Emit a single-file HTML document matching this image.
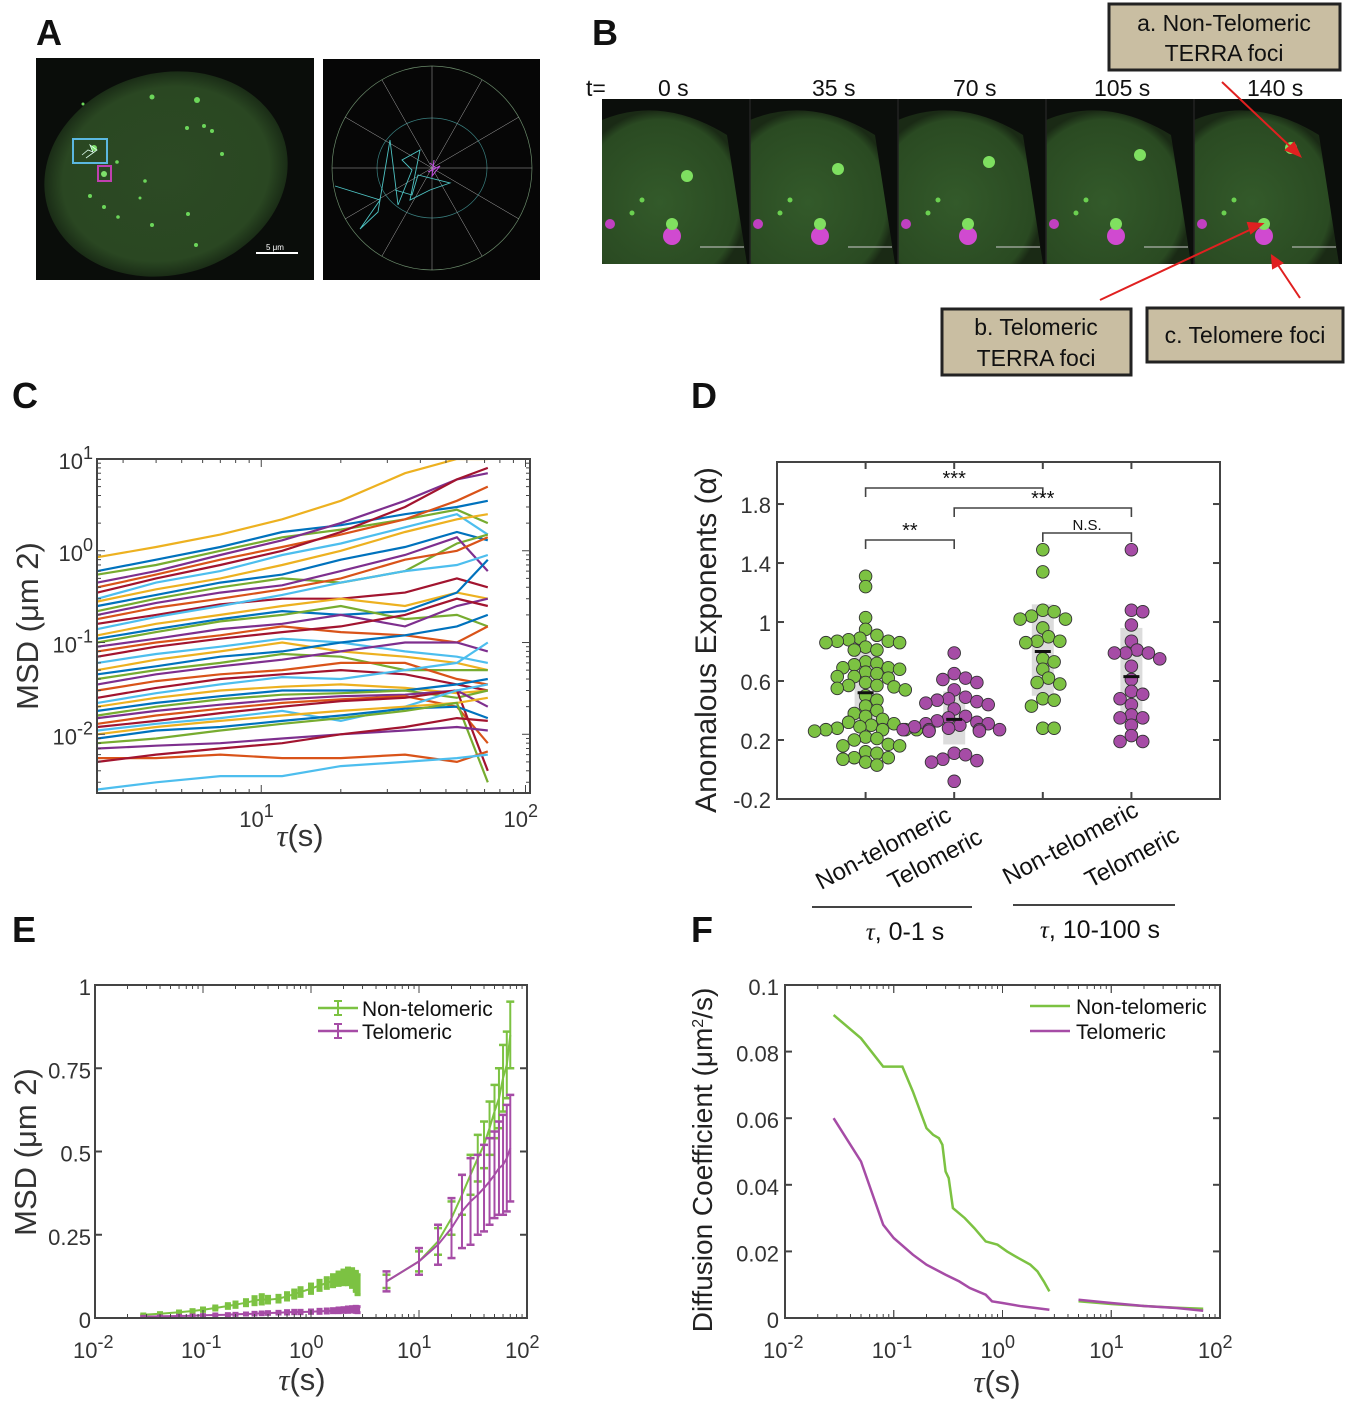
<!DOCTYPE html>
<html><head><meta charset="utf-8">
<style>
html,body{margin:0;padding:0;background:#fff;}
svg{display:block;font-family:"Liberation Sans",Arial,sans-serif;}
.tk{font-size:22px;fill:#333;}
.pl{font-size:36px;font-weight:bold;fill:#111;}
</style></head>
<body>
<svg id="fig" width="1350" height="1403" viewBox="0 0 1350 1403" xmlns="http://www.w3.org/2000/svg">
<defs>
<radialGradient id="nuc" cx="50%" cy="50%" r="50%"><stop offset="0%" stop-color="#2c4a24"/><stop offset="85%" stop-color="#2a4722"/><stop offset="100%" stop-color="#1a2c16"/></radialGradient>
<radialGradient id="nucB" cx="40%" cy="60%" r="60%"><stop offset="0%" stop-color="#335a2a"/><stop offset="90%" stop-color="#2a4a22"/><stop offset="100%" stop-color="#1a2a15"/></radialGradient>
</defs>

<text class="pl" x="36" y="45">A</text>
<g>
<rect x="36" y="58" width="278" height="222" fill="#0a0d0a"/>
<ellipse cx="166" cy="174" rx="123" ry="101" fill="url(#nuc)" transform="rotate(-15 166 174)"/>
<g fill="#6cd65a">
<circle cx="152" cy="97" r="2.5"/><circle cx="197" cy="100" r="3"/><circle cx="204" cy="126" r="2"/><circle cx="212" cy="131" r="2"/><circle cx="187" cy="128" r="2"/><circle cx="222" cy="154" r="2"/><circle cx="145" cy="181" r="1.8"/><circle cx="90" cy="196" r="2"/><circle cx="104" cy="207" r="2"/><circle cx="118" cy="217" r="1.8"/><circle cx="152" cy="225" r="2"/><circle cx="188" cy="214" r="2"/><circle cx="196" cy="245" r="2"/><circle cx="140" cy="198" r="1.5"/><circle cx="117" cy="162" r="1.8"/><circle cx="83" cy="104" r="1.5"/>
</g>
<rect x="73" y="139" width="34" height="24" fill="none" stroke="#5bb8e0" stroke-width="2"/>
<circle cx="94" cy="148" r="3" fill="#7ee06a"/>
<polyline points="82,155 88,150 93,152 90,145 97,150 86,158" fill="none" stroke="#dfe" stroke-width="0.8"/>
<rect x="98" y="166" width="13" height="15" fill="none" stroke="#c040b0" stroke-width="2"/>
<circle cx="104" cy="174" r="3" fill="#7ee06a"/>
<line x1="256" y1="253" x2="298" y2="253" stroke="#fff" stroke-width="2"/>
<text x="266" y="250" font-size="8" fill="#fff">5 μm</text>
</g>
<g>
<rect x="323" y="59" width="217" height="221" fill="#060606"/>
<ellipse cx="432" cy="168" rx="100" ry="102" fill="none" stroke="#6a8a6a" stroke-width="0.7"/>
<ellipse cx="432" cy="168" rx="55" ry="50" fill="none" stroke="#3a8080" stroke-width="0.7"/>
<g stroke="#aaa" stroke-width="0.5">
<line x1="432" y1="66" x2="432" y2="270"/><line x1="332" y1="168" x2="532" y2="168"/>
<line x1="382" y1="80" x2="482" y2="256"/><line x1="482" y1="80" x2="382" y2="256"/>
<line x1="345" y1="117" x2="519" y2="219"/><line x1="519" y1="117" x2="345" y2="219"/>
</g>
<polyline points="335,186 380,200 360,229 378,212 390,140 398,205 412,170 402,160 420,150 410,200 430,190 450,183 418,175 412,195 395,190" fill="none" stroke="#4ec3c3" stroke-width="0.9"/>
<polyline points="430,163 436,168 428,172 440,166 432,176 434,160" fill="none" stroke="#c050e0" stroke-width="1"/>
</g>

<text class="pl" x="592" y="45">B</text>
<g font-size="23" fill="#111">
<text x="586" y="96">t=</text><text x="658" y="96">0 s</text><text x="812" y="96">35 s</text><text x="953" y="96">70 s</text><text x="1094" y="96">105 s</text><text x="1247" y="96">140 s</text>
</g>
<g id="bstrip"></g>
<g>
<rect x="1109" y="4" width="231" height="66" fill="#c9bea2" stroke="#222" stroke-width="3"/>
<text x="1224" y="31" font-size="23" text-anchor="middle" fill="#111">a. Non-Telomeric</text>
<text x="1224" y="61" font-size="23" text-anchor="middle" fill="#111">TERRA foci</text>
</g>
<g>
<rect x="942" y="309" width="189" height="66" fill="#c9bea2" stroke="#222" stroke-width="3"/>
<text x="1036" y="335" font-size="23" text-anchor="middle" fill="#111">b. Telomeric</text>
<text x="1036" y="366" font-size="23" text-anchor="middle" fill="#111">TERRA foci</text>
</g>
<g>
<rect x="1147" y="308" width="196" height="54" fill="#c9bea2" stroke="#222" stroke-width="3"/>
<text x="1245" y="343" font-size="23" text-anchor="middle" fill="#111">c. Telomere foci</text>
</g>
<g stroke="#e02020" stroke-width="2" fill="#e02020">
<line x1="1222" y1="82" x2="1296" y2="152"/><polygon points="1300,156 1286,150 1294,143"/>
<line x1="1100" y1="300" x2="1256" y2="227"/><polygon points="1262,224 1251,233 1248,223"/>
<line x1="1300" y1="298" x2="1276" y2="262"/><polygon points="1272,256 1282,263 1273,268"/>
</g>

<text class="pl" x="12" y="408">C</text>
<g id="chartC"></g>
<text class="pl" x="691" y="408">D</text>
<g id="chartD"></g>
<text class="pl" x="12" y="942">E</text>
<g id="chartE"></g>
<text class="pl" x="691" y="942">F</text>
<g id="chartF"></g>
</svg>
<script>
const cTau = [2.4, 4, 7, 12, 20, 35, 55, 72];
const cTracks = [
[0.85,1.1,1.5,2.2,3.5,7,10,10],
[0.6,0.8,1.1,1.6,1.9,2.5,3,3.5],
[0.55,0.7,1.0,1.4,1.7,2.2,2.8,2],
[0.45,0.6,0.9,1.3,2.0,3.5,6,7],
[0.4,0.55,0.8,1.1,1.5,2.2,3.5,5],
[0.35,0.5,0.7,1.0,1.6,3,6,8],
[0.3,0.45,0.6,0.9,1.2,1.8,2.5,1.5],
[0.28,0.38,0.5,0.7,1.0,1.6,2.2,2.5],
[0.25,0.33,0.45,0.55,0.8,1.1,1.6,1.3],
[0.22,0.3,0.4,0.5,0.45,0.6,1.2,1.5],
[0.2,0.27,0.35,0.42,0.6,0.9,1.4,0.6],
[0.18,0.24,0.3,0.38,0.5,0.8,1.0,1.4],
[0.16,0.2,0.26,0.3,0.3,0.35,0.5,0.4],
[0.14,0.19,0.25,0.33,0.45,0.6,0.7,0.9],
[0.12,0.16,0.2,0.25,0.3,0.25,0.35,0.3],
[0.11,0.14,0.18,0.22,0.2,0.22,0.35,0.8],
[0.1,0.13,0.17,0.2,0.25,0.18,0.2,0.15],
[0.09,0.11,0.14,0.16,0.2,0.15,0.25,0.3],
[0.08,0.1,0.12,0.15,0.13,0.12,0.1,0.15],
[0.07,0.09,0.11,0.13,0.15,0.2,0.3,0.25],
[0.06,0.075,0.09,0.11,0.1,0.08,0.07,0.06],
[0.05,0.065,0.08,0.1,0.08,0.07,0.06,0.05],
[0.045,0.055,0.07,0.08,0.1,0.12,0.15,0.2],
[0.04,0.05,0.06,0.075,0.07,0.05,0.05,0.05],
[0.035,0.045,0.055,0.065,0.08,0.1,0.1,0.08],
[0.03,0.038,0.045,0.05,0.06,0.06,0.04,0.035],
[0.025,0.032,0.04,0.045,0.05,0.045,0.035,0.03],
[0.022,0.028,0.035,0.042,0.04,0.05,0.06,0.1],
[0.02,0.025,0.03,0.033,0.035,0.032,0.028,0.03],
[0.018,0.022,0.026,0.03,0.03,0.03,0.035,0.04],
[0.016,0.02,0.024,0.027,0.028,0.03,0.025,0.03],
[0.015,0.018,0.021,0.024,0.026,0.027,0.03,0.02],
[0.013,0.016,0.019,0.022,0.024,0.026,0.02,0.008],
[0.012,0.014,0.017,0.02,0.023,0.025,0.03,0.004],
[0.011,0.013,0.015,0.018,0.014,0.02,0.03,0.035],
[0.01,0.012,0.014,0.016,0.018,0.02,0.022,0.025],
[0.009,0.011,0.012,0.014,0.016,0.019,0.02,0.015],
[0.008,0.009,0.011,0.013,0.015,0.018,0.022,0.003],
[0.007,0.0075,0.008,0.009,0.01,0.011,0.012,0.011],
[0.0055,0.0055,0.006,0.0055,0.0055,0.006,0.005,0.0065],
[0.005,0.006,0.007,0.008,0.01,0.012,0.015,0.014],
[0.0025,0.003,0.0035,0.0035,0.0045,0.005,0.0055,0.006]
];
const cColors = ["#EDB120","#0072BD","#77AC30","#7E2F8E","#D95319","#A2142F","#4DBEEE"];

const dCategories = ["Non-telomeric","Telomeric","Non-telomeric","Telomeric"];
const dGroup1 = [1.31,1.24,1.03,0.95,0.91,0.89,0.88,0.87,0.87,0.86,0.86,0.83,0.81,0.81,0.73,0.72,0.71,0.69,0.69,0.68,0.66,0.65,0.63,0.63,0.62,0.59,0.57,0.57,0.56,0.55,0.54,0.50,0.47,0.43,0.40,0.38,0.36,0.34,0.32,0.31,0.30,0.29,0.28,0.27,0.27,0.27,0.27,0.26,0.22,0.21,0.20,0.17,0.16,0.16,0.12,0.11,0.08,0.08,0.07,0.05,0.03];
const dGroup2 = [0.79,0.65,0.62,0.61,0.59,0.54,0.49,0.48,0.47,0.46,0.45,0.44,0.41,0.36,0.35,0.33,0.32,0.31,0.31,0.30,0.29,0.28,0.27,0.27,0.27,0.27,0.26,0.26,0.26,0.11,0.10,0.07,0.06,0.05,-0.08];
const dGroup3 = [1.49,1.34,1.08,1.07,1.04,1.02,1.02,0.96,0.90,0.87,0.87,0.86,0.75,0.73,0.68,0.62,0.59,0.58,0.48,0.47,0.43,0.28,0.28];
const dGroup4 = [1.49,1.08,1.07,0.98,0.87,0.81,0.79,0.79,0.79,0.75,0.70,0.61,0.53,0.51,0.48,0.44,0.37,0.35,0.35,0.30,0.23,0.19,0.19];
const dMeans = [0.52,0.34,0.80,0.63];
const dBoxLo = [0.30,0.17,0.50,0.31];
const dBoxHi = [0.80,0.53,1.12,0.96];
const dYTicks = [-0.2,0.2,0.6,1,1.4,1.8];
const dYTickLabels = ["-0.2","0.2","0.6","1","1.4","1.8"];

const eTauShort = [0.028,0.04,0.06,0.08,0.1,0.13,0.17,0.2,0.25,0.3,0.35,0.4,0.5,0.6,0.7,0.8,1.0,1.2,1.4,1.6,1.8,2.0,2.2,2.4,2.6,2.7];
const eNonShort = [0.010,0.013,0.017,0.021,0.025,0.030,0.036,0.040,0.046,0.052,0.056,0.055,0.058,0.065,0.072,0.078,0.088,0.098,0.105,0.112,0.118,0.122,0.125,0.120,0.110,0.100];
const eNonShortErr = [0.002,0.003,0.004,0.004,0.005,0.006,0.007,0.008,0.009,0.012,0.014,0.010,0.010,0.011,0.012,0.013,0.014,0.015,0.016,0.018,0.020,0.022,0.025,0.028,0.030,0.030];
const eTelShort = [0.004,0.005,0.006,0.007,0.008,0.009,0.010,0.011,0.012,0.013,0.014,0.015,0.016,0.017,0.018,0.018,0.019,0.020,0.021,0.022,0.023,0.024,0.025,0.026,0.026,0.025];
const eTelShortErr = [0.001,0.001,0.002,0.002,0.002,0.003,0.003,0.003,0.003,0.004,0.004,0.004,0.004,0.005,0.005,0.005,0.005,0.006,0.006,0.006,0.007,0.007,0.008,0.008,0.009,0.009];
const eTauLong = [5,10,15,20,25,30,35,40,45,50,55,60,65,70];
const eNonLong = [0.11,0.17,0.23,0.30,0.37,0.43,0.48,0.52,0.57,0.62,0.66,0.72,0.76,0.85];
const eNonLongErr = [0.02,0.03,0.04,0.05,0.06,0.06,0.07,0.07,0.08,0.08,0.09,0.1,0.1,0.1];
const eTelLong = [0.11,0.17,0.22,0.27,0.32,0.35,0.37,0.39,0.41,0.43,0.45,0.46,0.48,0.51];
const eTelLongErr = [0.03,0.04,0.06,0.09,0.11,0.13,0.12,0.13,0.13,0.13,0.14,0.15,0.16,0.16];
const eYTicks = [0,0.25,0.5,0.75,1];
const eYTickLabels = ["0","0.25","0.5","0.75","1"];

const fTauNon = [0.028,0.05,0.08,0.1,0.12,0.15,0.2,0.23,0.26,0.28,0.3,0.32,0.35,0.45,0.55,0.7,0.9,1.1,1.4,1.8,2.1,2.4,2.7];
const fNon = [0.091,0.084,0.0755,0.0755,0.0755,0.068,0.057,0.055,0.054,0.052,0.044,0.042,0.033,0.030,0.027,0.023,0.022,0.020,0.018,0.016,0.014,0.011,0.008];
const fTauTel = [0.028,0.05,0.08,0.1,0.15,0.2,0.3,0.4,0.5,0.7,0.8,1.0,1.5,2.7];
const fTel = [0.060,0.047,0.028,0.024,0.019,0.016,0.013,0.011,0.009,0.007,0.005,0.0045,0.0035,0.0025];
const fTauLong = [5,10,20,40,70];
const fNonLong = [0.0050,0.0042,0.0036,0.0031,0.0028];
const fTelLong = [0.0055,0.0045,0.0036,0.0030,0.0022];
const fYTicks = [0,0.02,0.04,0.06,0.08,0.1];
const fYTickLabels = ["0","0.02","0.04","0.06","0.08","0.1"];

const NS="http://www.w3.org/2000/svg";
function mk(tag,attrs,parent,txt){const e=document.createElementNS(NS,tag);for(const k in attrs)e.setAttribute(k,attrs[k]);if(txt!==undefined)e.textContent=txt;parent.appendChild(e);return e;}
const GREEN="#7cc242", PURP="#a64ca6";

(function(){
  const g=document.getElementById('bstrip');
  mk('rect',{x:602,y:99,width:740,height:165,fill:'#0b0e0b'},g);
  [0,1,2,3,4].forEach(i=>{
    const x0=602+i*148;
    const f=mk('g',{},g);
    
    
    mk('path',{d:`M${x0} ${120} Q${x0+60} ${95} ${x0+125} ${135} L${x0+145} ${264} L${x0} ${264} Z`,fill:'url(#nucB)'},f);
    mk('circle',{cx:x0+85+i*3,cy:176-i*7,r:6,fill:'#7ee060'},f);
    mk('circle',{cx:x0+70,cy:236,r:9,fill:'#d04ad0'},f);
    mk('circle',{cx:x0+70,cy:224,r:6,fill:'#80e060'},f);
    mk('circle',{cx:x0+8,cy:224,r:5,fill:'#c040c0'},f);
    mk('circle',{cx:x0+40,cy:200,r:2.5,fill:'#6bd050'},f);
    mk('circle',{cx:x0+30,cy:213,r:2.5,fill:'#6bd050'},f);
    mk('line',{x1:x0+98,y1:247,x2:x0+142,y2:247,stroke:'#ccc','stroke-width':1},f);
    if(i>0) mk('line',{x1:x0,y1:99,x2:x0,y2:264,stroke:'#222','stroke-width':1.5},f);
  });
})();

(function(){
  const g=document.getElementById('chartC');
  const L=97,R=530,T=459,B=793;
  const xmin=Math.log10(2.39), xmax=Math.log10(104);
  const ymin=-2.64, ymax=1;
  const X=v=>L+(Math.log10(v)-xmin)/(xmax-xmin)*(R-L);
  const Y=v=>B-(Math.log10(v)-ymin)/(ymax-ymin)*(B-T);
  mk('clipPath',{id:'clipC'},g); mk('rect',{x:L,y:T,width:R-L,height:B-T},g.lastChild);
  const lg=mk('g',{'clip-path':'url(#clipC)'},g);
  cTracks.forEach((tr,i)=>{
    const p=mk('polyline',{points:tr.map((v,j)=>X(cTau[j]).toFixed(1)+','+Y(v).toFixed(1)).join(' '),fill:'none',stroke:cColors[i%cColors.length],'stroke-width':2.2},lg);
    
    
  });
  mk('rect',{x:L,y:T,width:R-L,height:B-T,fill:'none',stroke:'#444','stroke-width':2},g);
  for(let d=0;d<=2;d++)for(let m=1;m<10;m++){const v=m*Math.pow(10,d);if(v<2.39||v>104)continue;const x=X(v);const len=m==1?8:4;mk('line',{x1:x,y1:B,x2:x,y2:B-len,stroke:'#444'},g);mk('line',{x1:x,y1:T,x2:x,y2:T+len,stroke:'#444'},g);}
  for(let d=-3;d<=0;d++)for(let m=1;m<10;m++){const v=m*Math.pow(10,d);if(Math.log10(v)<ymin)continue;const y=Y(v);const len=m==1?8:4;mk('line',{x1:L,y1:y,x2:L+len,y2:y,stroke:'#444'},g);mk('line',{x1:R,y1:y,x2:R-len,y2:y,stroke:'#444'},g);}
  [1,2].forEach(e=>{const t=mk('text',{x:X(Math.pow(10,e))-22,y:B+34,class:'tk','font-size':26},g);t.innerHTML='10<tspan dy="-10" font-size="18">'+e+'</tspan>';});
  [1,0,-1,-2].forEach(e=>{const t=mk('text',{x:L-4,y:Y(Math.pow(10,e))+10,class:'tk','font-size':26,'text-anchor':'end'},g);t.innerHTML='10<tspan dy="-10" font-size="18">'+e+'</tspan>';});
  const xl=mk('text',{x:300,y:846,'font-size':31,fill:'#333','text-anchor':'middle'},g);xl.innerHTML='<tspan font-family="Liberation Serif" font-style="italic">τ</tspan>(s)';
  mk('text',{x:0,y:0,'font-size':31,fill:'#333','text-anchor':'middle',transform:'translate(38,626) rotate(-90)'},g,'MSD (μm 2)');
})();

(function(){
  const g=document.getElementById('chartD');
  const L=777,R=1220,T=462,B=799;
  const ymin=-0.2, ymax=2.085;
  const X=c=>L+(c+1)/5*(R-L);
  const Y=v=>B-(v-ymin)/(ymax-ymin)*(B-T);
  const r=6.3;
  dBoxLo.forEach((lo,i)=>{const b=mk('rect',{x:X(i)-11,y:Y(dBoxHi[i]),width:22,height:Y(lo)-Y(dBoxHi[i]),fill:'#dcdcdc'},g);});
  const groups=[dGroup1,dGroup2,dGroup3,dGroup4];
  const cols=[GREEN,PURP,GREEN,PURP];
  groups.forEach((vals,gi)=>{
    const placed=[];
    vals.forEach(v=>{
      const y=Y(v);let off=0;
      const cands=[0];for(let k=1;k<10;k++){cands.push(k*r*0.9,-k*r*0.9);}
      let found=false;
      for(const c of cands){const ok=placed.every(p=>Math.hypot(p[0]-c,p[1]-y)>=2*r-2.5);if(ok){off=c;found=true;break;}}
      if(!found) off=(placed.length%2?1:-1)*r*4;
      placed.push([off,y]);
      const d=mk('circle',{cx:X(gi)+off,cy:y,r:r,fill:cols[gi],stroke:'#333','stroke-width':0.9},g);
      
      
    });
    mk('line',{x1:X(gi)-8,y1:Y(dMeans[gi]),x2:X(gi)+8,y2:Y(dMeans[gi]),stroke:'#111','stroke-width':3},g);
  });
  mk('rect',{x:L,y:T,width:R-L,height:B-T,fill:'none',stroke:'#444','stroke-width':2},g);
  dYTicks.forEach((v,i)=>{const y=Y(v);mk('line',{x1:L,y1:y,x2:L+7,y2:y,stroke:'#444','stroke-width':2},g);mk('line',{x1:R,y1:y,x2:R-7,y2:y,stroke:'#444','stroke-width':2},g);mk('text',{x:L-6,y:y+9,class:'tk','font-size':25,'text-anchor':'end'},g,dYTickLabels[i]);});
  dCategories.forEach((c,i)=>{mk('line',{x1:X(i),y1:B,x2:X(i),y2:B-7,stroke:'#444','stroke-width':2},g);mk('line',{x1:X(i),y1:T,x2:X(i),y2:T+7,stroke:'#444','stroke-width':2},g);});
  const ends=[[953,820],[984,842],[1140,815],[1181,840]];
  dCategories.forEach((c,i)=>{mk('text',{x:0,y:0,'font-size':24,fill:'#111','text-anchor':'end',transform:`translate(${ends[i][0]},${ends[i][1]}) rotate(-28)`},g,c);});
  mk('line',{x1:812,y1:907,x2:972,y2:907,stroke:'#444','stroke-width':2},g);
  mk('line',{x1:1013,y1:905,x2:1175,y2:905,stroke:'#444','stroke-width':2},g);
  let t=mk('text',{x:905,y:940,'font-size':25,fill:'#111','text-anchor':'middle'},g);t.innerHTML='<tspan font-family="Liberation Serif" font-style="italic">τ</tspan>, 0-1 s';
  t=mk('text',{x:1100,y:938,'font-size':25,fill:'#111','text-anchor':'middle'},g);t.innerHTML='<tspan font-family="Liberation Serif" font-style="italic">τ</tspan>, 10-100 s';
  mk('text',{x:0,y:0,'font-size':30,fill:'#222','text-anchor':'middle',transform:'translate(716,640) rotate(-90)'},g,'Anomalous Exponents (α)');
  const br=(a,b,yl,leg,label,fs)=>{mk('polyline',{points:`${X(a)},${yl+leg} ${X(a)},${yl} ${X(b)},${yl} ${X(b)},${yl+leg}`,fill:'none',stroke:'#444','stroke-width':1.6},g);mk('text',{x:(X(a)+X(b))/2,y:yl-3,'font-size':fs,fill:'#111','text-anchor':'middle'},g,label);};
  br(0,2,488,9,'***',20);br(1,3,508,9,'***',20);br(0,1,540,9,'**',20);br(2,3,533,9,'N.S.',15);
})();

(function(){
  const g=document.getElementById('chartE');
  const L=95,R=527,T=985,B=1318;
  const X=v=>L+(Math.log10(v)+2)/4*(R-L);
  const Y=v=>B-v*(B-T);
  const eb=(xs,ys,es,col,w,cap,lw)=>{xs.forEach((x,i)=>{const xx=X(x);const y1=Y(ys[i]-es[i]),y2=Y(ys[i]+es[i]);mk('line',{x1:xx,y1:y1,x2:xx,y2:y2,stroke:col,'stroke-width':lw},g);mk('line',{x1:xx-cap,y1:y1,x2:xx+cap,y2:y1,stroke:col,'stroke-width':w},g);mk('line',{x1:xx-cap,y1:y2,x2:xx+cap,y2:y2,stroke:col,'stroke-width':w},g);});
    const p=mk('polyline',{points:xs.map((x,i)=>X(x).toFixed(1)+','+Y(ys[i]).toFixed(1)).join(' '),fill:'none',stroke:col,'stroke-width':2},g);};
  eb(eTauShort,eNonShort,eNonShortErr,GREEN,3,3,6);
  eb(eTauShort,eTelShort,eTelShortErr,PURP,3,3,5);
  eb(eTauLong,eNonLong,eNonLongErr,GREEN,2.5,4,2);
  eb(eTauLong,eTelLong,eTelLongErr,PURP,2.5,4,2);
  mk('rect',{x:L,y:T,width:R-L,height:B-T,fill:'none',stroke:'#444','stroke-width':2},g);
  for(let d=-2;d<=1;d++)for(let m=1;m<=10;m++){const x=X(m*Math.pow(10,d));const len=(m==1||m==10)?8:4;mk('line',{x1:x,y1:B,x2:x,y2:B-len,stroke:'#444'},g);mk('line',{x1:x,y1:T,x2:x,y2:T+len,stroke:'#444'},g);}
  [-2,-1,0,1,2].forEach(e=>{const t=mk('text',{x:X(Math.pow(10,e))-22,y:1358,class:'tk','font-size':26},g);t.innerHTML='10<tspan dy="-10" font-size="18">'+e+'</tspan>';});
  eYTicks.forEach((v,i)=>{const y=Y(v);mk('line',{x1:L,y1:y,x2:L+7,y2:y,stroke:'#444','stroke-width':2},g);mk('line',{x1:R,y1:y,x2:R-7,y2:y,stroke:'#444','stroke-width':2},g);mk('text',{x:L-4,y:y+10,class:'tk','font-size':25,'text-anchor':'end'},g,eYTickLabels[i]);});
  const xl=mk('text',{x:302,y:1390,'font-size':31,fill:'#333','text-anchor':'middle'},g);xl.innerHTML='<tspan font-family="Liberation Serif" font-style="italic">τ</tspan>(s)';
  mk('text',{x:0,y:0,'font-size':31,fill:'#333','text-anchor':'middle',transform:'translate(36,1152) rotate(-90)'},g,'MSD (μm 2)');
  [[GREEN,'Non-telomeric',1008],[PURP,'Telomeric',1031]].forEach(([c,l,y])=>{const lg=mk('g',{},g);mk('line',{x1:318,y1:y,x2:358,y2:y,stroke:c,'stroke-width':2.5},lg);mk('line',{x1:338,y1:y-7,x2:338,y2:y+7,stroke:c,'stroke-width':2},lg);mk('line',{x1:334,y1:y-7,x2:342,y2:y-7,stroke:c,'stroke-width':2},lg);mk('line',{x1:334,y1:y+7,x2:342,y2:y+7,stroke:c,'stroke-width':2},lg);mk('text',{x:362,y:y+8,'font-size':21,fill:'#111'},lg,l);});
})();

(function(){
  const g=document.getElementById('chartF');
  const L=785,R=1220,T=985,B=1318;
  const X=v=>L+(Math.log10(v)+2)/4*(R-L);
  const Y=v=>B-v/0.1*(B-T);
  const line=(xs,ys,c)=>{const p=mk('polyline',{points:xs.map((x,i)=>X(x).toFixed(1)+','+Y(ys[i]).toFixed(1)).join(' '),fill:'none',stroke:c,'stroke-width':2.5},g);};
  line(fTauNon,fNon,GREEN);line(fTauTel,fTel,PURP);line(fTauLong,fNonLong,GREEN);line(fTauLong,fTelLong,PURP);
  mk('rect',{x:L,y:T,width:R-L,height:B-T,fill:'none',stroke:'#444','stroke-width':2},g);
  for(let d=-2;d<=1;d++)for(let m=1;m<=10;m++){const x=X(m*Math.pow(10,d));const len=(m==1||m==10)?8:4;mk('line',{x1:x,y1:B,x2:x,y2:B-len,stroke:'#444'},g);mk('line',{x1:x,y1:T,x2:x,y2:T+len,stroke:'#444'},g);}
  [-2,-1,0,1,2].forEach(e=>{const t=mk('text',{x:X(Math.pow(10,e))-22,y:1358,class:'tk','font-size':26},g);t.innerHTML='10<tspan dy="-10" font-size="18">'+e+'</tspan>';});
  fYTicks.forEach((v,i)=>{const y=Y(v);mk('line',{x1:L,y1:y,x2:L+7,y2:y,stroke:'#444','stroke-width':2},g);mk('line',{x1:R,y1:y,x2:R-7,y2:y,stroke:'#444','stroke-width':2},g);mk('text',{x:L-6,y:y+10,class:'tk','font-size':25,'text-anchor':'end'},g,fYTickLabels[i]);});
  const xl=mk('text',{x:997,y:1392,'font-size':31,fill:'#333','text-anchor':'middle'},g);xl.innerHTML='<tspan font-family="Liberation Serif" font-style="italic">τ</tspan>(s)';
  const yl=mk('text',{x:0,y:0,'font-size':28,fill:'#222','text-anchor':'middle',transform:'translate(712,1160) rotate(-90)'},g);yl.innerHTML='Diffusion Coefficient (μm<tspan dy="-9" font-size="16">2</tspan><tspan dy="9">/s)</tspan>';
  [[GREEN,'Non-telomeric',1006],[PURP,'Telomeric',1031]].forEach(([c,l,y])=>{const lg=mk('g',{},g);mk('line',{x1:1030,y1:y,x2:1070,y2:y,stroke:c,'stroke-width':2.5},lg);mk('text',{x:1076,y:y+8,'font-size':21,fill:'#111'},lg,l);});
})();
</script>
</body></html>
